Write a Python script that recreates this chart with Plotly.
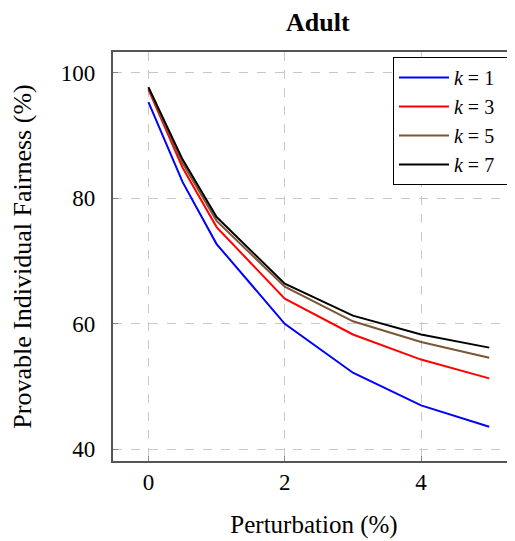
import plotly.graph_objects as go

perturbation = [0, 0.5, 1, 2, 3, 4, 5]
k1 = [95.3, 82.6, 72.7, 60.0, 52.2, 47.0, 43.6]
k3 = [97.3, 84.9, 75.4, 64.0, 58.3, 54.3, 51.3]
k5 = [97.5, 85.6, 76.4, 65.9, 60.4, 57.1, 54.6]
k7 = [97.7, 86.2, 77.0, 66.4, 61.3, 58.3, 56.2]
series_names = ["<i>k</i> = 1", "<i>k</i> = 3", "<i>k</i> = 5", "<i>k</i> = 7"]
colors = ["#0000ff", "#ff0000", "#7b5634", "#000000"]
x_ticks = [0, 2, 4]
y_ticks = [40, 60, 80, 100]
y_tick_labels = ["40", "60", "80", "100"]

font = "Liberation Serif, DejaVu Serif, Noto Serif, serif"
fig = go.Figure()
for name, vals, c in zip(series_names, [k1, k3, k5, k7], colors):
    fig.add_trace(go.Scatter(x=perturbation, y=vals, mode="lines", name=name + "  ",
                             line=dict(color=c, width=2)))

fig.update_layout(
    width=507, height=533,
    margin=dict(l=105, r=0, t=44, b=80),
    paper_bgcolor="white", plot_bgcolor="white",
    font=dict(family=font, color="black"),
    title=dict(text="<b>Adult</b>", x=0.611, xref="container", y=0.974, yref="container",
               xanchor="center", yanchor="middle", font=dict(size=26, family=font)),
    legend=dict(x=0.99, y=0.988, xanchor="right", yanchor="top",
                bgcolor="white", bordercolor="black", borderwidth=1,
                font=dict(size=20, family=font), tracegroupgap=0, itemwidth=50),
    showlegend=True,
)
fig.update_xaxes(range=[-0.52, 5.378], tickvals=x_ticks, ticks="inside", ticklen=5,
                 tickcolor="#888", showgrid=True, gridcolor="#c8c8c8", griddash="dash",
                 showline=True, linecolor="#555", linewidth=1.5, mirror=True,
                 zeroline=False, tickfont=dict(size=23, family=font),
                 title=dict(text="Perturbation (%)", font=dict(size=25, family=font), standoff=21))
fig.update_yaxes(range=[38.14, 103.3], tickvals=y_ticks,
                 ticktext=[t + "\u2002" for t in y_tick_labels], ticks="inside", ticklen=5,
                 tickcolor="#888", showgrid=True, gridcolor="#c8c8c8", griddash="dash",
                 showline=True, linecolor="#555", linewidth=1.5,
                 zeroline=False, tickfont=dict(size=23, family=font),
                 title=dict(text="Provable Individual Fairness (%)", font=dict(size=26, family=font), standoff=28))

fig.write_html("out.html")
